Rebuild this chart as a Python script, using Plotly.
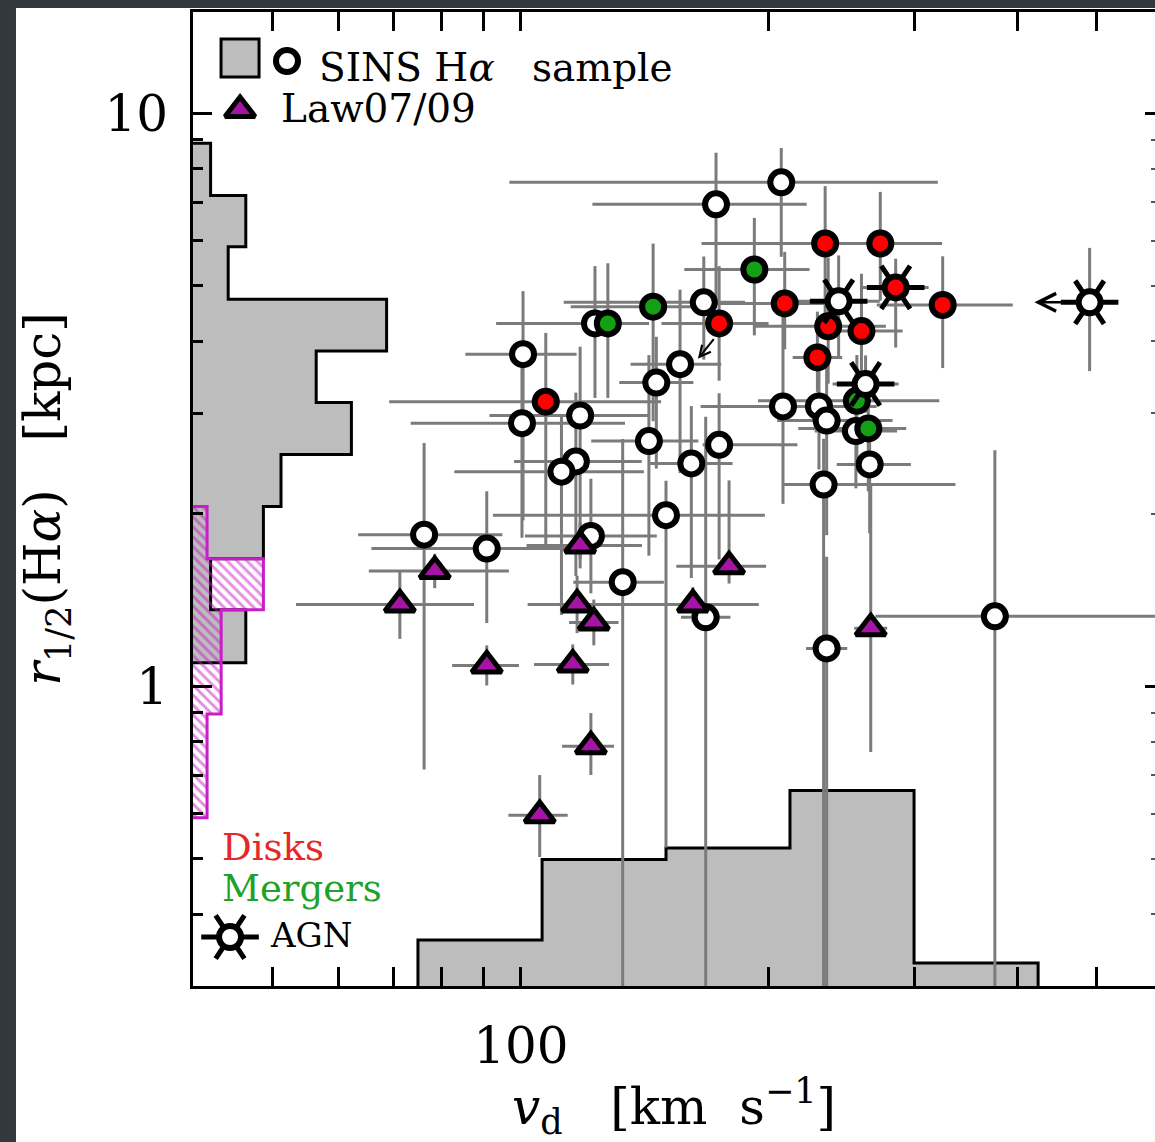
import math
import plotly.graph_objects as go

# ------------------------------------------------------------------ data
# SINS H-alpha sample, unclassified objects (open circles)
sins_v = [207, 172.5, 166.7, 123, 100.6, 156, 146, 208, 230, 118, 100.3, 235, 255, 143,
          174, 116.6, 112, 161, 265, 233, 150, 76.3, 90.9, 121.6, 132.9, 167.6, 376, 235]
sins_r = [7.58, 6.94, 4.68, 4.30, 3.80, 3.65, 3.39, 3.08, 3.08, 2.97, 2.88, 2.91, 2.79, 2.68,
          2.64, 2.47, 2.37, 2.45, 2.44, 2.25, 1.99, 1.84, 1.74, 1.83, 1.52, 1.32, 1.325, 1.165]
# errors in dex (lower / upper)
sins_dv_lo = [0.33, 0.15, 0.17, 0.12, 0.07, 0.06, 0.045, 0.10, 0.08, 0.11, 0.135, 0.06, 0.05, 0.07,
              0.02, 0.075, 0.13, 0.05, 0.04, 0.05, 0.21, 0.08, 0.14, 0.08, 0.06, 0.03, 0.145, 0.025]
sins_dv_hi = [0.19, 0.11, 0.05, 0.05, 0.065, 0.05, 0.045, 0.06, 0.07, 0.085, 0.125, 0.08, 0.05, 0.06,
              0.095, 0.08, 0.10, 0.05, 0.05, 0.16, 0.12, 0.095, 0.10, 0.08, 0.05, 0.03, 0.25, 0.025]
sins_dr_lo = [0.13, 0.17, 0.10, 0.13, 0.29, 0.19, 0.15, 0.17, 0.11, 0.25, 0.20, 0.20, 0.10, 0.20,
              0.20, 0.20, 0.25, 0.20, 0.12, 0.95, 0.58, 0.41, 0.13, 0.10, 0.90, 0.80, 0.80, 0.75]
sins_dr_hi = [0.06, 0.09, 0.08, 0.10, 0.11, 0.13, 0.08, 0.17, 0.11, 0.12, 0.10, 0.10, 0.10, 0.15,
              0.09, 0.12, 0.10, 0.10, 0.08, 0.08, 0.06, 0.16, 0.10, 0.10, 0.25, 0.35, 0.29, 0.16]

# Disks (red)
disk_v = [234, 273, 209, 325, 174, 236, 259, 229, 107.2]
disk_r = [5.93, 5.93, 4.66, 4.63, 4.30, 4.25, 4.17, 3.75, 3.14]
disk_dv_lo = [0.15, 0.07, 0.10, 0.08, 0.07, 0.09, 0.05, 0.03, 0.19]
disk_dv_hi = [0.07, 0.075, 0.05, 0.085, 0.06, 0.07, 0.05, 0.03, 0.14]
disk_dr_lo = [0.15, 0.10, 0.08, 0.11, 0.10, 0.10, 0.12, 0.06, 0.25]
disk_dr_hi = [0.10, 0.09, 0.09, 0.085, 0.10, 0.12, 0.10, 0.08, 0.12]

# Mergers (green)
merg_v = [192, 144.7, 127.5, 255.7, 264]
merg_r = [5.34, 4.60, 4.30, 3.15, 2.82]
merg_dv_lo = [0.085, 0.10, 0.05, 0.12, 0.085]
merg_dv_hi = [0.067, 0.05, 0.05, 0.10, 0.046]
merg_dr_lo = [0.115, 0.20, 0.13, 0.10, 0.11]
merg_dr_hi = [0.09, 0.11, 0.105, 0.08, 0.05]

# AGN
agn_v = [243, 285, 262, 490]
agn_r = [4.70, 4.97, 3.37, 4.68]
agn_fill = ["white", "red", "white", "white"]
agn_dv_lo = [0.05, 0.04, 0.04, 0.0]
agn_dv_hi = [0.05, 0.04, 0.04, 0.0]
agn_dr_lo = [0.10, 0.105, 0.05, 0.12]
agn_dr_hi = [0.08, 0.05, 0.05, 0.095]
agn_limit_index = 3          # upper limit in v_d
agn_limit_arrow_to = 420     # km/s

# small limit arrow near (172 km/s, 4 kpc)
lim2_from = (172, 4.06)
lim2_to = (164, 3.73)

# Law07/09 (magenta triangles)
law_v = [71.3, 78.6, 90.9, 105.4, 115.6, 118, 117, 122.6, 121.6, 161.7, 178.9, 265.8]
law_r = [1.39, 1.59, 1.088, 0.596, 1.092, 1.762, 1.39, 1.293, 0.786, 1.39, 1.62, 1.263]
law_dv_lo = [0.126, 0.08, 0.042, 0.038, 0.047, 0.065, 0.06, 0.03, 0.035, 0.09, 0.064, 0.02]
law_dv_hi = [0.09, 0.09, 0.039, 0.034, 0.044, 0.075, 0.06, 0.03, 0.028, 0.08, 0.045, 0.02]
law_dr_lo = [0.06, 0.03, 0.035, 0.073, 0.035, 0.04, 0.05, 0.04, 0.05, 0.03, 0.03, 0.216]
law_dr_hi = [0.06, 0.03, 0.035, 0.07, 0.035, 0.04, 0.05, 0.04, 0.058, 0.03, 0.15, 0.25]

# histograms
r_hist_edges = [8.87, 7.19, 5.85, 4.74, 3.85, 3.13, 2.54, 2.06, 1.67, 1.36, 1.10, 0.895, 0.728, 0.590]
sins_r_counts = [1, 3, 2, 11, 7, 9, 5, 4, 1, 3]
law_r_first_bin = 7
law_r_counts = [1, 5, 2, 2, 1, 1]
law_norm = 0.8
v_hist_edges = [75, 106.1, 150, 212.1, 300, 424.3]
sins_v_counts = [4, 11, 12, 17, 2]

# ------------------------------------------------------------------ layout constants
FONT = "DejaVu Serif"
W, H = 1155, 1142
M_L, M_R, M_T, M_B = 193, 0, 12, 156
PLOT_W = W - M_L - M_R
PLOT_H = H - M_T - M_B
X_MIN, Y_MIN = 40.0, 0.3
DEC_PX_X, DEC_PX_Y = 824.0, 573.0
X_RANGE = [math.log10(X_MIN), math.log10(X_MIN) + PLOT_W / DEC_PX_X]
Y_RANGE = [math.log10(Y_MIN), math.log10(Y_MIN) + PLOT_H / DEC_PX_Y]
R_HIST_PX_PER_COUNT = 17.6
V_HIST_PX_PER_COUNT = 11.5

ERR_COLOR = "#7b7b7b"
RED = "#ff0000"
GREEN = "#14a014"
MAGENTA = "#a514a5"
HIST_GRAY = "#bdbdbd"
HATCH = "#c81ec8"


def lo(vals, dex):
    return [v - v * 10 ** (-d) for v, d in zip(vals, dex)]


def hi(vals, dex):
    return [v * 10 ** d - v for v, d in zip(vals, dex)]


def err_trace(v, r, dvl, dvh, drl, drh):
    return go.Scatter(
        x=v, y=r, mode="markers",
        marker=dict(size=1, color="rgba(0,0,0,0)"),
        error_x=dict(type="data", symmetric=False, array=hi(v, dvh), arrayminus=lo(v, dvl),
                     width=0, thickness=3, color=ERR_COLOR),
        error_y=dict(type="data", symmetric=False, array=hi(r, drh), arrayminus=lo(r, drl),
                     width=0, thickness=3, color=ERR_COLOR),
        hoverinfo="skip", showlegend=False)


def circ_trace(v, r, fill, xa="x", ya="y"):
    return go.Scatter(x=v, y=r, mode="markers", xaxis=xa, yaxis=ya,
                      marker=dict(symbol="circle", size=22, color=fill,
                                  line=dict(color="black", width=6)),
                      hoverinfo="skip", showlegend=False)


def spoke_traces(v, r, xa="x", ya="y"):
    out = []
    for sym in ("y-left", "y-right"):
        out.append(go.Scatter(x=v, y=r, mode="markers", xaxis=xa, yaxis=ya,
                              marker=dict(symbol=sym, size=36, color="black",
                                          line=dict(color="black", width=5)),
                              hoverinfo="skip", showlegend=False))
    return out


def x_of_count(c):
    return 10 ** (X_RANGE[0] + c * R_HIST_PX_PER_COUNT / DEC_PX_X)


def y_of_count(c):
    return 10 ** (Y_RANGE[0] + c * V_HIST_PX_PER_COUNT / DEC_PX_Y)


def r_hist_poly(edges, counts):
    xs, ys = [X_MIN], [edges[0]]
    for i, c in enumerate(counts):
        xc = x_of_count(c)
        xs += [xc, xc]
        ys += [edges[i], edges[i + 1]]
    xs.append(X_MIN)
    ys.append(edges[len(counts)])
    return xs, ys


def v_hist_poly(edges, counts):
    xs, ys = [edges[0]], [Y_MIN]
    for i, c in enumerate(counts):
        yc = y_of_count(c)
        xs += [edges[i], edges[i + 1]]
        ys += [yc, yc]
    xs.append(edges[len(counts)])
    ys.append(Y_MIN)
    return xs, ys


fig = go.Figure()

# ---- histograms (bottom layer)
hx, hy = r_hist_poly(r_hist_edges, sins_r_counts)
fig.add_trace(go.Scatter(x=hx, y=hy, mode="lines", fill="toself", fillcolor=HIST_GRAY,
                         line=dict(color="black", width=3), hoverinfo="skip", showlegend=False))
lx, ly = r_hist_poly(r_hist_edges[law_r_first_bin:], [c * law_norm for c in law_r_counts])
fig.add_trace(go.Scatter(x=lx, y=ly, mode="lines", fill="toself", fillcolor="rgba(0,0,0,0)",
                         fillpattern=dict(shape="\\", fgcolor=HATCH, bgcolor="rgba(0,0,0,0)",
                                          size=7, solidity=0.42),
                         line=dict(color=HATCH, width=3), hoverinfo="skip", showlegend=False))
bx, by = v_hist_poly(v_hist_edges, sins_v_counts)
fig.add_trace(go.Scatter(x=bx, y=by, mode="lines", fill="toself", fillcolor=HIST_GRAY,
                         line=dict(color="black", width=3), hoverinfo="skip", showlegend=False))

# ---- error bars
fig.add_trace(err_trace(sins_v, sins_r, sins_dv_lo, sins_dv_hi, sins_dr_lo, sins_dr_hi))
fig.add_trace(err_trace(law_v, law_r, law_dv_lo, law_dv_hi, law_dr_lo, law_dr_hi))
fig.add_trace(err_trace(disk_v, disk_r, disk_dv_lo, disk_dv_hi, disk_dr_lo, disk_dr_hi))
fig.add_trace(err_trace(merg_v, merg_r, merg_dv_lo, merg_dv_hi, merg_dr_lo, merg_dr_hi))
fig.add_trace(err_trace(agn_v, agn_r, agn_dv_lo, agn_dv_hi, agn_dr_lo, agn_dr_hi))

# ---- markers
fig.add_trace(circ_trace(sins_v, sins_r, "white"))
fig.add_trace(go.Scatter(x=law_v, y=law_r, mode="markers",
                         marker=dict(symbol="triangle-up", size=26, color=MAGENTA,
                                     line=dict(color="black", width=5)),
                         hoverinfo="skip", showlegend=False))
fig.add_trace(circ_trace(disk_v, disk_r, RED))
fig.add_trace(circ_trace(merg_v, merg_r, GREEN))
for t in spoke_traces(agn_v, agn_r):
    fig.add_trace(t)
fig.add_trace(circ_trace(agn_v, agn_r, agn_fill))

# ---- right-hand y ticks (no line)
fig.add_trace(go.Scatter(x=[X_MIN], y=[1], xaxis="x", yaxis="y2", mode="markers",
                         marker=dict(size=1, color="rgba(0,0,0,0)"), hoverinfo="skip",
                         showlegend=False))

# ---- custom legend (normalised overlay axes)
leg_pos = dict(square=(0.0489, 0.9528), circle=(0.0977, 0.9497), tri=(0.0489, 0.8994),
               agn=(0.0385, 0.0503))
fig.add_trace(go.Scatter(x=[leg_pos["square"][0]], y=[leg_pos["square"][1]], xaxis="x4", yaxis="y4",
                         mode="markers", marker=dict(symbol="square", size=38, color=HIST_GRAY,
                                                     line=dict(color="black", width=3)),
                         hoverinfo="skip", showlegend=False))
fig.add_trace(circ_trace([leg_pos["circle"][0]], [leg_pos["circle"][1]], "white", "x4", "y4"))
fig.add_trace(go.Scatter(x=[leg_pos["tri"][0]], y=[leg_pos["tri"][1]], xaxis="x4", yaxis="y4",
                         mode="markers", marker=dict(symbol="triangle-up", size=26, color=MAGENTA,
                                                     line=dict(color="black", width=5)),
                         hoverinfo="skip", showlegend=False))
for t in spoke_traces([leg_pos["agn"][0]], [leg_pos["agn"][1]], "x4", "y4"):
    fig.add_trace(t)
fig.add_trace(circ_trace([leg_pos["agn"][0]], [leg_pos["agn"][1]], "white", "x4", "y4"))

NB = "\u00a0"
annotations = [
    dict(text="SINS" + NB + "H<i>α</i>" + NB * 3 + "sample", x=0.1289, y=0.9435, xref="paper", yref="paper",
         xanchor="left", yanchor="middle", showarrow=False, font=dict(family=FONT, size=39, color="black")),
    dict(text="Law07/09", x=0.0894, y=0.9014, xref="paper", yref="paper",
         xanchor="left", yanchor="middle", showarrow=False, font=dict(family=FONT, size=39, color="black")),
    dict(text="Disks", x=0.0281, y=0.1417, xref="paper", yref="paper",
         xanchor="left", yanchor="middle", showarrow=False, font=dict(family=FONT, size=37, color="#e42828")),
    dict(text="Mergers", x=0.0281, y=0.1006, xref="paper", yref="paper",
         xanchor="left", yanchor="middle", showarrow=False, font=dict(family=FONT, size=37, color="#1fa12a")),
    dict(text="AGN", x=0.078, y=0.0524, xref="paper", yref="paper",
         xanchor="left", yanchor="middle", showarrow=False, font=dict(family=FONT, size=34, color="black")),
    # upper-limit arrow of the AGN
    dict(text="", x=math.log10(agn_limit_arrow_to), y=math.log10(agn_r[agn_limit_index]),
         ax=math.log10(agn_v[agn_limit_index]), ay=math.log10(agn_r[agn_limit_index]),
         xref="x", yref="y", axref="x", ayref="y", showarrow=True, arrowhead=5, arrowsize=1.4,
         arrowwidth=2.5, arrowcolor="black", startstandoff=13),
    dict(text="", x=math.log10(lim2_to[0]), y=math.log10(lim2_to[1]),
         ax=math.log10(lim2_from[0]), ay=math.log10(lim2_from[1]),
         xref="x", yref="y", axref="x", ayref="y", showarrow=True, arrowhead=5, arrowsize=1.1,
         arrowwidth=2, arrowcolor="black"),
]

tickfont = dict(family=FONT, size=50, color="black")
titlefont = dict(family=FONT, size=50, color="black")

fig.update_layout(
    width=W, height=H,
    margin=dict(l=M_L, r=M_R, t=M_T, b=M_B, pad=0),
    paper_bgcolor="#32383b", plot_bgcolor="white",
    showlegend=False,
    font=dict(family=FONT, color="black"),
    shapes=[dict(type="rect", xref="paper", yref="paper", x0=-0.184, x1=1.05, y0=-0.2, y1=1.0041,
                 fillcolor="white", line=dict(width=0), layer="below")],
    annotations=annotations,
    xaxis=dict(type="log", range=X_RANGE, showline=True, linecolor="black", linewidth=3,
               mirror="allticks", ticks="inside", ticklen=19, tickwidth=3, tickcolor="black",
               tickmode="array", tickvals=[100], ticktext=["100"], tickfont=tickfont,
               ticklabelstandoff=14,
               minor=dict(ticks="inside", ticklen=9, tickwidth=2.5, tickcolor="black",
                          tickmode="array", tickvals=[50, 60, 70, 80, 90, 200, 300, 400, 500]),
               showgrid=False, zeroline=False,
               title=dict(text="<i>v</i><sub>d</sub>" + NB * 3 + "[km" + NB * 2 + "s<sup>−1</sup>]",
                          font=titlefont, standoff=24)),
    yaxis=dict(type="log", range=Y_RANGE, showline=True, linecolor="black", linewidth=3,
               mirror=False, ticks="inside", ticklen=19, tickwidth=3, tickcolor="black",
               tickmode="array", tickvals=[1, 10], ticktext=["1", "10"], tickfont=tickfont,
               ticklabelstandoff=12,
               minor=dict(ticks="inside", ticklen=10, tickwidth=2.5, tickcolor="black",
                          tickmode="array",
                          tickvals=[0.4, 0.5, 0.6, 0.7, 0.8, 0.9, 2, 3, 4, 5, 6, 7, 8, 9]),
               showgrid=False, zeroline=False,
               title=dict(text="<i>r</i><sub>1/2</sub>(H<i>α</i>)" + NB * 3 + "[kpc]",
                          font=titlefont, standoff=28)),
    yaxis2=dict(type="log", range=Y_RANGE, overlaying="y", side="right", anchor="x",
                showline=False, ticks="inside", ticklen=10, tickwidth=3, tickcolor="black",
                tickmode="array", tickvals=[1, 10], showticklabels=False,
                minor=dict(ticks="inside", ticklen=4, tickwidth=2, tickcolor="#555555",
                           tickmode="array",
                           tickvals=[0.4, 0.5, 0.6, 0.7, 0.8, 0.9, 2, 3, 4, 5, 6, 7, 8, 9]),
                showgrid=False, zeroline=False),
    xaxis4=dict(range=[0, 1], overlaying="x", anchor="y4", visible=False),
    yaxis4=dict(range=[0, 1], overlaying="y", anchor="x4", visible=False),
)

fig.write_html("out.html", config=dict(displayModeBar=False))
